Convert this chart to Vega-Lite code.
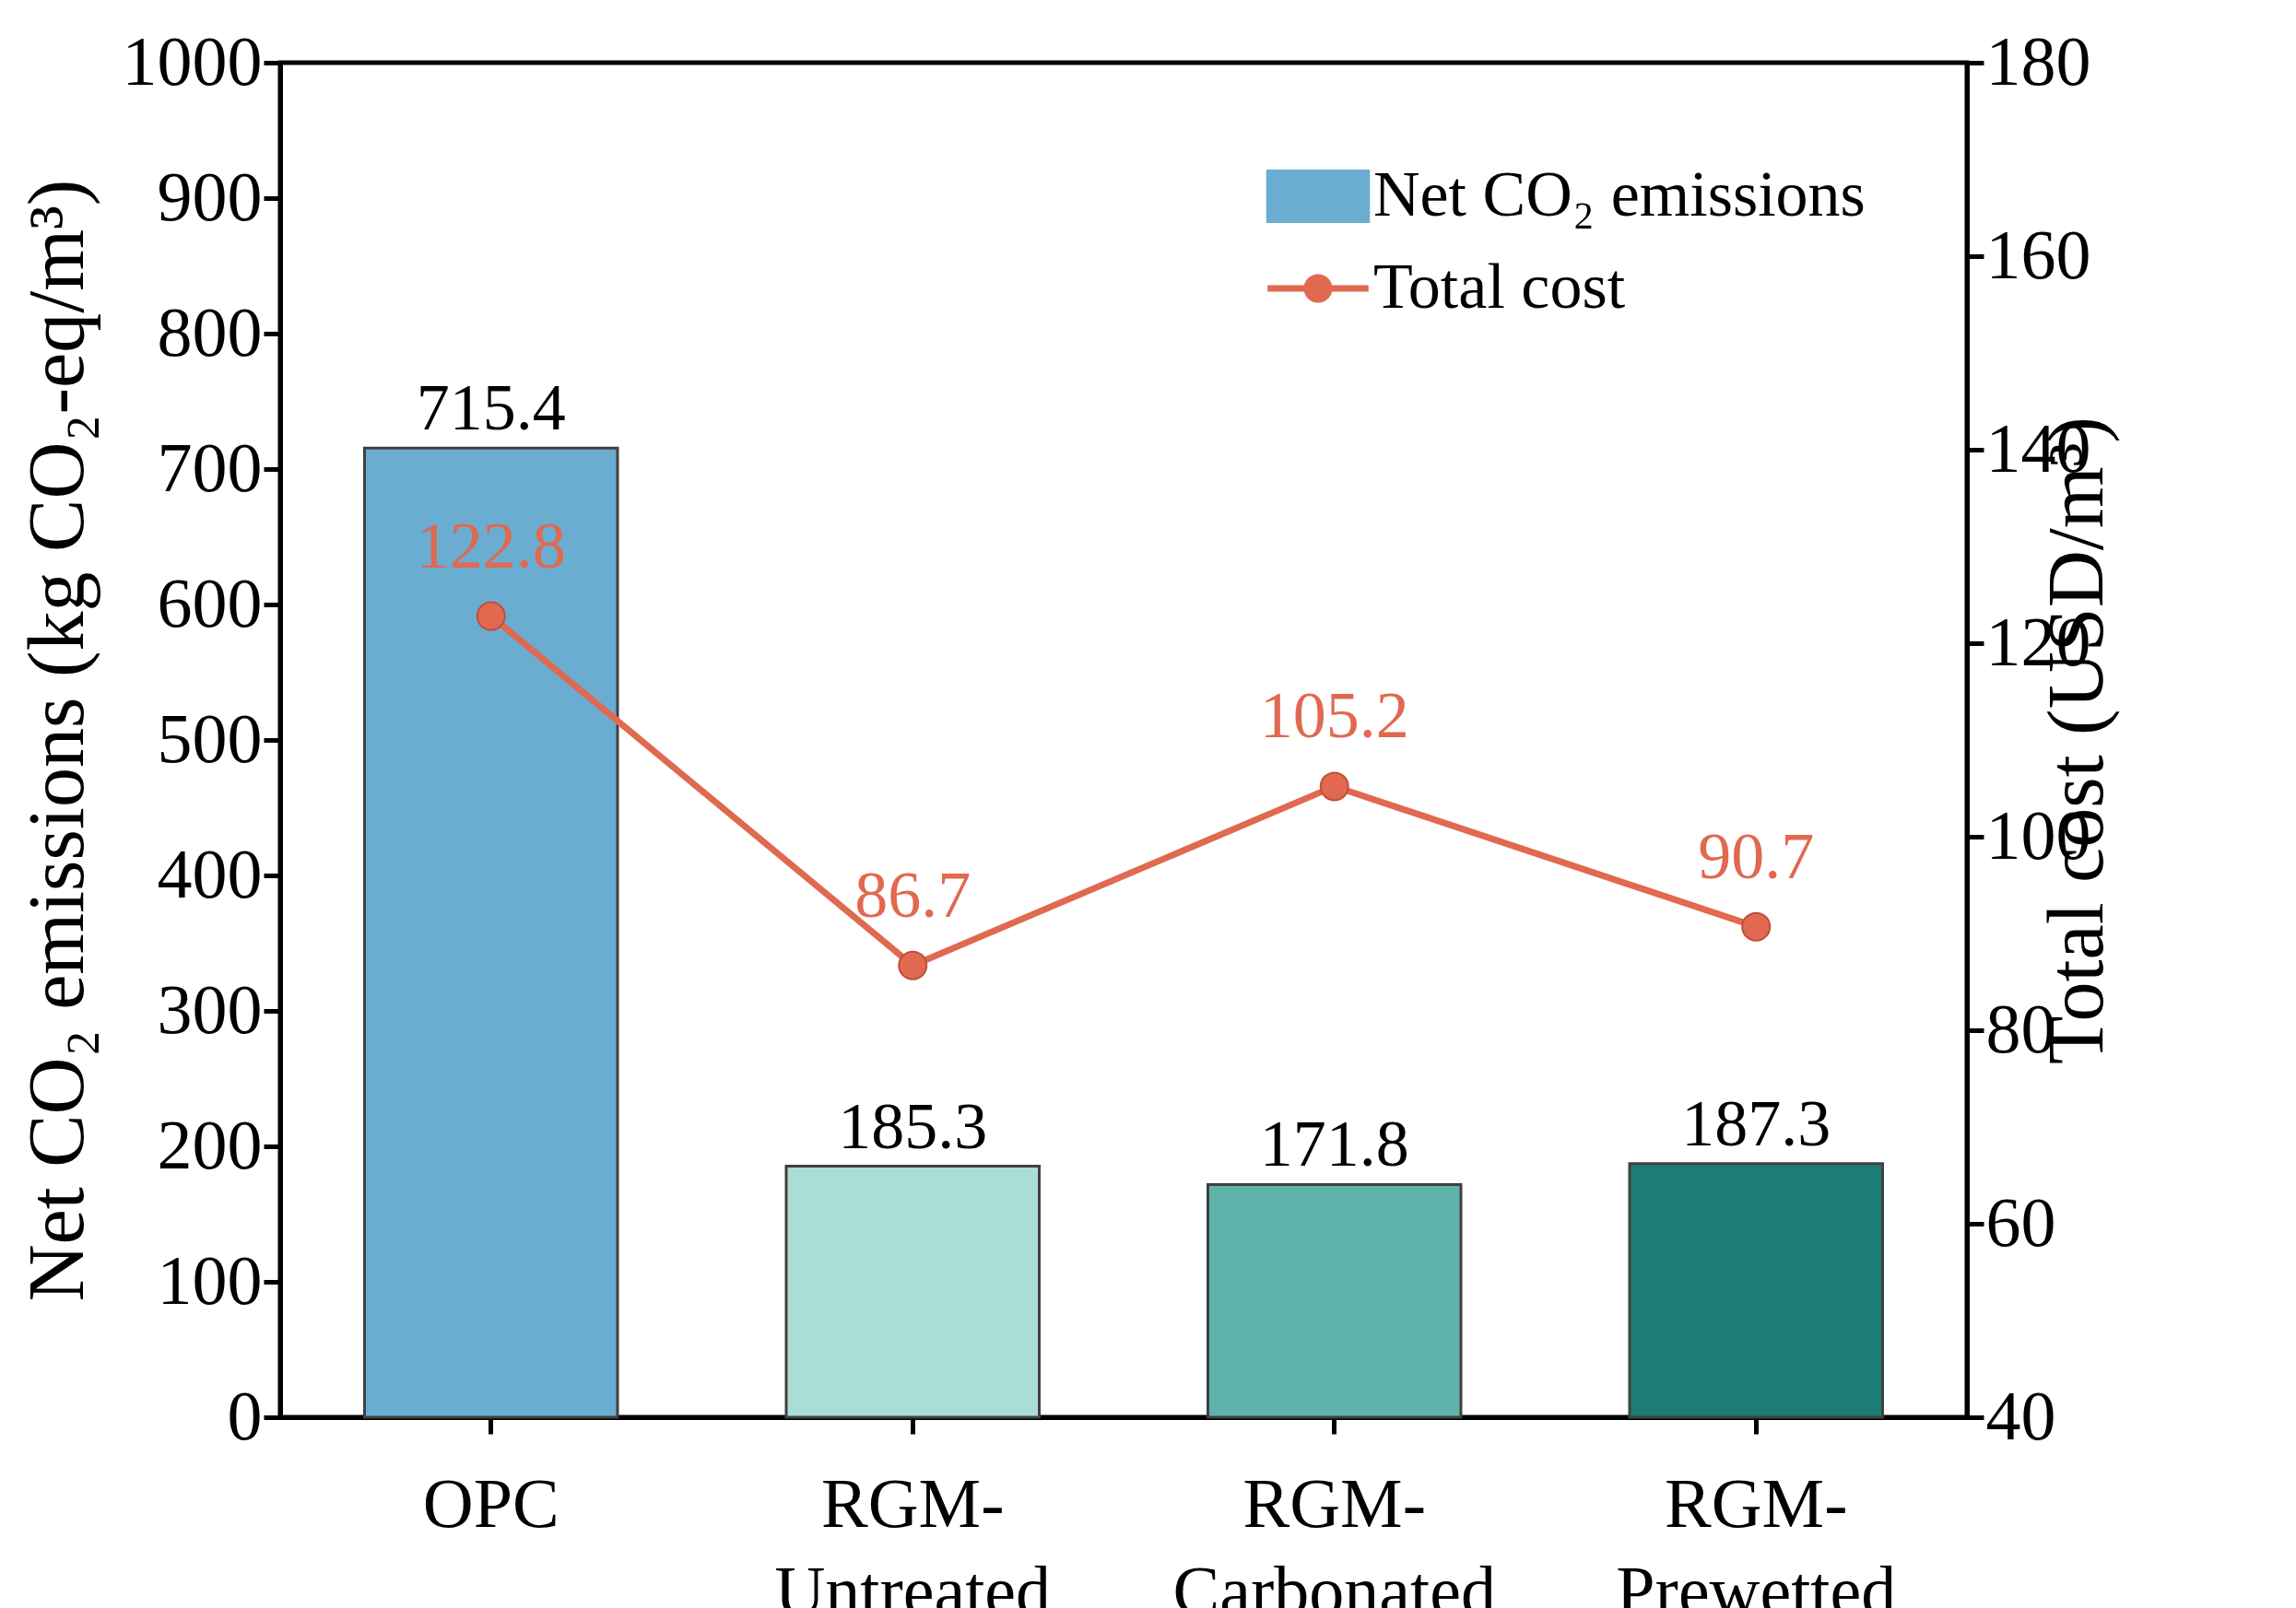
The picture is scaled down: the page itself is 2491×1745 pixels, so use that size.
{
  "$schema": "https://vega.github.io/schema/vega-lite/v6.json",
  "width": 1830,
  "height": 1470,
  "background": "white",
  "padding": {"left": 20, "top": 30, "right": 10, "bottom": 5},
  "config": {
    "font": "Liberation Serif",
    "view": {"stroke": "black", "strokeWidth": 5},
    "axis": {
      "labelFont": "Liberation Serif",
      "titleFont": "Liberation Serif",
      "labelFontSize": 76,
      "titleFontSize": 86,
      "titleFontWeight": "normal",
      "labelColor": "black",
      "titleColor": "black",
      "domainColor": "black",
      "domainWidth": 5,
      "tickColor": "black",
      "tickWidth": 5,
      "tickSize": 18,
      "labelLimit": 0,
      "grid": false
    }
  },
  "data": {
    "values": [
      {"name": "OPC", "co2": 715.4, "cost": 122.8},
      {"name": "RGM-Untreated", "co2": 185.3, "cost": 86.7},
      {"name": "RGM-Carbonated", "co2": 171.8, "cost": 105.2},
      {"name": "RGM-Prewetted", "co2": 187.3, "cost": 90.7}
    ]
  },
  "encoding": {
    "x": {
      "field": "name",
      "type": "nominal",
      "sort": null,
      "title": null,
      "scale": {"paddingInner": 0.4, "paddingOuter": 0.2},
      "axis": {
        "labelAngle": 0,
        "labelPadding": 40,
        "labelLineHeight": 95,
        "labelExpr": "datum.value == 'OPC' ? 'OPC' : ['RGM-', slice(datum.value, 4)]"
      }
    }
  },
  "layer": [
    {
      "layer": [
        {
          "mark": {"type": "bar", "stroke": "#404040", "strokeWidth": 3},
          "encoding": {
            "y": {
              "field": "co2",
              "type": "quantitative",
              "scale": {"domain": [0, 1000]},
              "title": "Net CO₂ emissions (kg CO₂-eq/m³)",
              "axis": {"orient": "left", "format": "d", "values": [0,100,200,300,400,500,600,700,800,900,1000], "titlePadding": 25}
            },
            "fill": {
              "field": "name",
              "type": "nominal",
              "sort": null,
              "legend": null,
              "scale": {"range": ["#6BACD1", "#AADDD6", "#5FB3AA", "#1B7D76"]}
            }
          }
        },
        {
          "mark": {"type": "bar"},
          "encoding": {
            "y": {"datum": 0, "type": "quantitative"},
            "y2": {"datum": 0},
            "color": {"datum": "Net CO₂ emissions"}
          }
        },
        {
          "mark": {"type": "text", "fontSize": 72, "dy": -42, "color": "black"},
          "encoding": {
            "y": {"field": "co2", "type": "quantitative"},
            "text": {"field": "co2", "type": "quantitative", "format": ".1f"}
          }
        }
      ]
    },
    {
      "layer": [
        {
          "mark": {"type": "line", "strokeWidth": 7},
          "encoding": {
            "y": {
              "field": "cost",
              "type": "quantitative",
              "scale": {"domain": [40, 180]},
              "title": "Total cost (USD/m³)",
              "axis": {"orient": "right", "values": [40,60,80,100,120,140,160,180], "titlePadding": 30, "titleAngle": 270}
            },
            "color": {
              "datum": "Total cost",
              "scale": {"domain": ["Net CO₂ emissions", "Total cost"], "range": ["#6BACD1", "#E0694F"]},
              "legend": {
                "title": null,
                "orient": "top-right",
                "offset": 110,
                "labelFontSize": 70,
                "labelFont": "Liberation Serif",
                "labelColor": "black",
                "labelLimit": 0,
                "labelOffset": 25,
                "symbolSize": 12000,
                "rowPadding": 30,
                "encode": {
                  "symbols": {
                    "update": {
                      "shape": {"signal": "datum.label == 'Total cost' ? 'M-1,0L1,0M0.22,0A0.22,0.22 0 1 1 -0.22,0A0.22,0.22 0 1 1 0.22,0' : 'M-1,-0.5H1V0.5H-1Z'"},
                      "fill": {"signal": "datum.label == 'Total cost' ? '#E0694F' : '#6BACD1'"},
                      "stroke": {"signal": "datum.label == 'Total cost' ? '#E0694F' : '#404040'"},
                      "strokeWidth": {"signal": "datum.label == 'Total cost' ? 7 : 3"},
                      "opacity": {"value": 1}
                    }
                  }
                }
              }
            }
          }
        },
        {
          "mark": {"type": "point", "filled": true, "size": 900, "stroke": "#C0503A", "strokeWidth": 2, "opacity": 1},
          "encoding": {
            "y": {"field": "cost", "type": "quantitative"},
            "color": {"datum": "Total cost"}
          }
        },
        {
          "mark": {"type": "text", "fontSize": 72, "dy": -75, "color": "#E0694F"},
          "encoding": {
            "y": {"field": "cost", "type": "quantitative"},
            "text": {"field": "cost", "type": "quantitative", "format": ".1f"}
          }
        }
      ]
    }
  ],
  "resolve": {"scale": {"y": "independent"}}
}
